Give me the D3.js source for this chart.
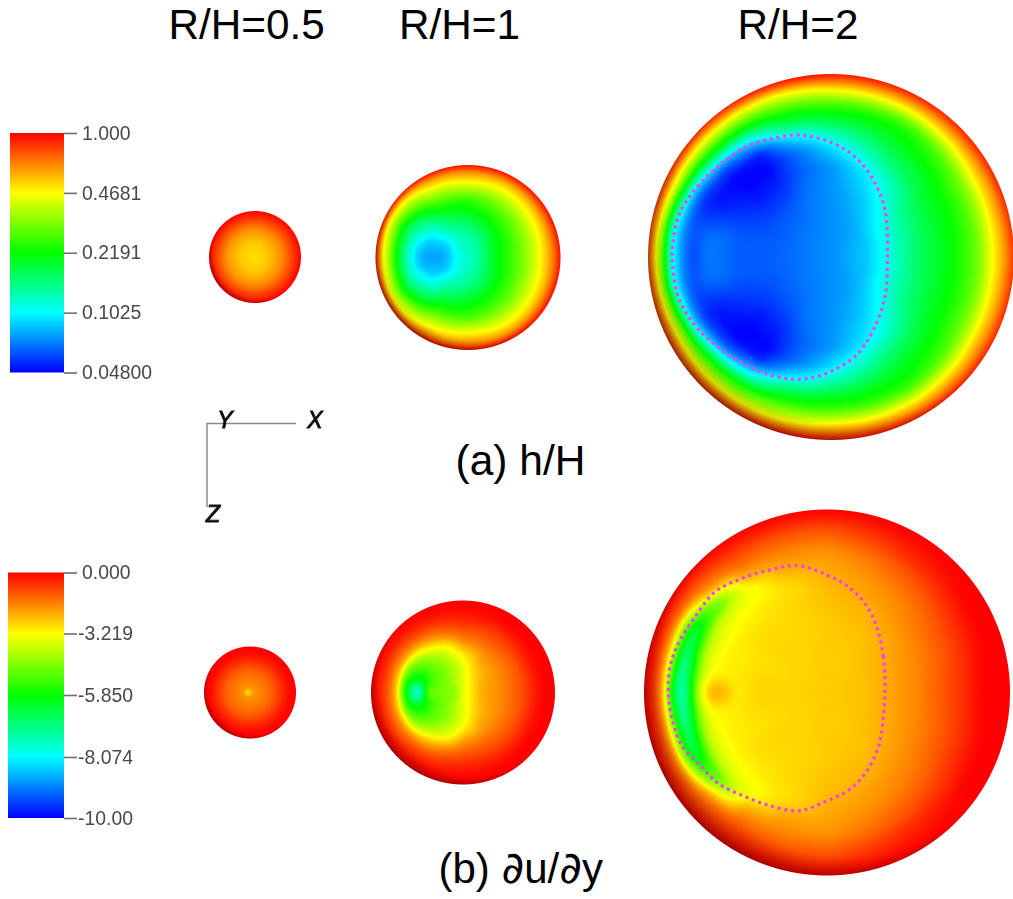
<!DOCTYPE html>
<html><head><meta charset="utf-8">
<script src="https://cdnjs.cloudflare.com/ajax/libs/d3/7.8.5/d3.min.js"></script>
<style>html,body{margin:0;padding:0;background:#fff;overflow:hidden}svg{display:block}</style>
</head><body>
<script>
// ---- Data. Field values are given as % of colour-bar height (0 = blue end, 100 = red end),
// sampled on polar grids (angle from +x in degrees, radius as a fraction of the disc radius; fields are mirror-symmetric in z).
const columnTitles = ["R/H=0.5", "R/H=1", "R/H=2"];
const captionA = ["(a) h/H"];
const captionB = ["(b) ", "\u2202", "u/", "\u2202", "y"];

const hTickValues = [1.0, 0.4681, 0.2191, 0.1025, 0.048];
const hTickLabels = ["1.000", "0.4681", "0.2191", "0.1025", "0.04800"];
const uTickValues = [0, -3.219, -5.85, -8.074, -10];
const uTickLabels = ["0.000", "-3.219", "-5.850", "-8.074", "-10.00"];

const a1Angles = [0, 90, 180];
const a1Radii = [0, 0.3, 0.6, 0.85, 1];
const a1Values = [
  [78, 81, 87, 95, 100],
  [78, 80, 86, 95, 100],
  [78, 80, 85, 94, 100]];

const a2Angles = [0, 30, 60, 90, 120, 140, 155, 170, 180];
const a2Radii = [0, .15, .22, .3, .45, .55, .65, .75, .85, .92, .96, 1];
const a2Values = [
  [30, 38, 43, 49, 55, 60, 66, 73, 81, 88, 93, 100],
  [30, 36, 41, 46, 53, 58, 64, 71, 79, 87, 93, 100],
  [30, 34, 37, 41, 50, 55, 61, 69, 77, 85, 92, 100],
  [30, 32, 34, 37, 46, 51, 57, 68, 79, 86, 92, 100],
  [30, 30, 30, 32, 40, 47, 55, 64, 75, 83, 90, 100],
  [30, 27, 25, 25, 29, 35, 43, 54, 66, 76, 86, 100],
  [30, 25, 21, 19, 21, 28, 35, 46, 62, 74, 85, 100],
  [30, 25, 19, 17, 17, 21, 31, 46, 64, 76, 85, 100],
  [30, 24, 19, 16, 16, 20, 31, 46, 64, 76, 85, 100]];

const a3Angles = [0, 30, 60, 90, 110, 125, 140, 155, 170, 180];
const a3Radii = [0, .2, .35, .5, .6, .68, .75, .8, .84, .88, .92, .96, 1];
const a3Values = [
  [14, 20, 31, 42, 47, 51, 56, 61, 67, 75, 80, 87, 96],
  [14, 19, 29, 40, 46, 50, 55, 60, 66, 74, 81, 88, 98],
  [14, 16, 20, 26, 37, 44, 49, 52, 58, 68, 78, 87, 98],
  [14, 14, 14, 15, 22, 33, 45, 51, 58, 67, 78, 88, 100],
  [14, 13, 12, 9, 10, 20, 38, 48, 55, 63, 72, 85, 100],
  [14, 12, 9, 3, 0, 3, 18, 33, 48, 58, 70, 83, 98],
  [14, 12, 8, 2, 0, 0, 8, 22, 42, 55, 68, 82, 97],
  [14, 11, 8, 6, 4, 2, 4, 12, 25, 48, 66, 82, 97],
  [14, 11, 9, 9, 11, 11, 8, 11, 19, 30, 58, 78, 96],
  [14, 11, 9, 9, 11, 12, 7, 11, 20, 30, 58, 76, 95]];

const b1Angles = [0, 90, 170, 180];
const b1Radii = [0, .06, .12, .3, .5, .7, .85, 1];
const b1Values = [
  [80, 84, 86, 88, 91, 96, 99, 100],
  [80, 84, 86, 88, 91, 96, 99, 100],
  [78, 76, 85, 88, 90, 95, 99, 100],
  [78, 72, 84, 88, 90, 95, 99, 100]];

const b2Angles = [0, 30, 60, 90, 110, 130, 150, 165, 175, 180];
const b2Radii = [0, .1, .2, .3, .36, .42, .5, .58, .65, .72, .8, .9, 1];
const b2Values = [
  [73, 78, 83, 85, 86, 87, 89, 91, 93, 95, 98, 100, 100],
  [73, 77, 82, 84, 85, 86, 88, 90, 92, 95, 98, 100, 100],
  [73, 75, 78, 81, 83, 85, 87, 90, 92, 94, 97, 100, 100],
  [73, 72, 72, 73, 75, 77, 83, 88, 91, 94, 97, 99, 100],
  [73, 70, 68, 67, 68, 70, 73, 80, 87, 91, 95, 99, 100],
  [73, 67, 65, 62, 62, 63, 66, 72, 80, 87, 93, 98, 100],
  [73, 64, 62, 60, 58, 56, 56, 60, 68, 83, 90, 97, 100],
  [73, 63, 63, 58, 56, 50, 46, 50, 60, 80, 90, 97, 100],
  [73, 63, 63, 60, 60, 46, 30, 42, 57, 80, 90, 97, 100],
  [73, 62, 63, 60, 64, 44, 22, 41, 56, 80, 90, 97, 100]];

const b3Angles = [0, 30, 60, 90, 110, 125, 140, 155, 170, 180];
const b3Radii = [0, .2, .35, .5, .58, .64, .7, .75, .8, .85, .9, .95, 1];
const b3Values = [
  [80, 81, 84, 87, 90, 92, 94, 96, 98, 100, 100, 100, 100],
  [80, 81, 83, 86, 88, 90, 92, 94, 96, 98, 100, 100, 100],
  [80, 80, 81, 83, 85, 86, 88, 90, 92, 95, 97, 99, 100],
  [80, 80, 80, 81, 82, 83, 84, 85, 87, 90, 93, 97, 100],
  [80, 80, 79, 79, 78, 79, 83, 85, 87, 90, 93, 97, 100],
  [80, 79, 79, 78, 77, 75, 74, 81, 86, 90, 93, 97, 100],
  [80, 79, 79, 78, 76, 74, 70, 60, 68, 84, 90, 95, 100],
  [80, 79, 78, 77, 76, 73, 68, 52, 42, 62, 86, 95, 100],
  [80, 79, 79, 77, 76, 75, 66, 46, 33, 56, 85, 96, 100],
  [80, 79, 79, 77, 84, 82, 70, 44, 30, 50, 84, 96, 100]];

// dotted contour lines on the R/H=2 discs (fractions of disc radius)
const a3ContourX = [.308, .295, .231, .140, .013, -.169, -.315, -.461, -.607, -.752, -.834, -.865, -.865, -.834, -.752, -.643, -.497, -.333, -.169, -.005, .140, .231, .295];
const a3ContourY = [0, .257, .421, .539, .621, .667, .648, .603, .503, .357, .220, .056, -.053, -.217, -.362, -.472, -.572, -.645, -.668, -.627, -.535, -.399, -.217];
const b3ContourX = [.317, .308, .271, .208, .117, -.011, -.166, -.321, -.466, -.612, -.721, -.812, -.858, -.867, -.849, -.794, -.685, -.594, -.466, -.321, -.157, -.011, .117, .208, .281, .308];
const b3ContourY = [.031, .195, .359, .486, .577, .647, .694, .668, .623, .55, .413, .268, .14, .013, -.133, -.288, -.406, -.497, -.561, -.616, -.647, -.597, -.534, -.443, -.297, -.133];

// ---- Layout
const W = 1013, H = 899;
const svg = d3.select("body").append("svg").attr("width", W).attr("height", H).attr("viewBox", [0, 0, W, H]);
const sans = "'Liberation Sans', Arial, sans-serif";

const colourStops = [0, 25, 50, 75, 100];
const colourRange = ["#0000ff", "#00ffff", "#00ff00", "#ffff00", "#ff0000"];
const colour = d3.scaleLinear().domain(colourStops).range(colourRange).interpolate(d3.interpolateRgb).clamp(true);
const lut = d3.range(0, 1001).map(i => d3.rgb(colour(i / 10)));

const defs = svg.append("defs");
defs.append("filter").attr("id", "soft").append("feGaussianBlur").attr("stdDeviation", 0.35);
const grad = defs.append("linearGradient").attr("id", "rainbow").attr("x1", 0).attr("x2", 0).attr("y1", 1).attr("y2", 0);
colourStops.forEach((s, i) => grad.append("stop").attr("offset", s + "%").attr("stop-color", colourRange[i]));

// ---- Colour bars
function colourBar(scale, values, labels, x0, x1, yTop, yBottom) {
  svg.append("rect").attr("x", x0).attr("y", yTop).attr("width", x1 - x0).attr("height", yBottom - yTop).attr("fill", "url(#rainbow)");
  const axis = d3.axisRight(scale).tickValues(values).tickSize(13).tickPadding(5).tickFormat((d, i) => labels[i]);
  const g = svg.append("g").attr("transform", `translate(${x1},0)`).call(axis);
  g.select(".domain").remove();
  g.selectAll(".tick line").attr("stroke", "#6e6e6e").attr("stroke-width", 1.6);
  g.selectAll(".tick text").attr("font-family", sans).attr("font-size", 19.4).attr("fill", "#4a4a4a")
    .attr("filter", "url(#soft)")
    .attr("x", (d, i) => labels[i].startsWith("-") ? 14 : 18);
}
const hScale = d3.scaleLog().domain([0.048, 1]).range([372.5, 133]);
colourBar(hScale, hTickValues, hTickLabels, 10, 64, 133, 372.5);
const uScale = d3.scaleLinear().domain(uTickValues).range([572.5, 633.5, 695, 757, 818]);
colourBar(uScale, uTickValues, uTickLabels, 8, 64, 572.5, 818);

// ---- Discs
function drawDisc(cx, cy, r, angles, radii, values, blurR) {
  const angIdx = d3.scaleLinear().domain(angles).range(d3.range(angles.length)).clamp(true);
  const radIdx = d3.scaleLinear().domain(radii).range(d3.range(radii.length)).clamp(true);
  const size = Math.ceil(2 * r) + 4, x0 = Math.floor(cx - r) - 2, y0 = Math.floor(cy - r) - 2;
  const cv = document.createElement("canvas"); cv.width = size; cv.height = size;
  const ctx = cv.getContext("2d"), img = ctx.createImageData(size, size);
  let t = new Float32Array(size * size);
  const sx = d3.scaleLinear().domain([cx - r, cx + r]).range([-1, 1]);
  const sy = d3.scaleLinear().domain([cy - r, cy + r]).range([-1, 1]);
  for (let j = 0; j < size; j++) for (let i = 0; i < size; i++) {
    const nx = sx(x0 + i + .5), ny = sy(y0 + j + .5);
    const rr = Math.min(1, Math.hypot(nx, ny));
    const th = Math.abs(Math.atan2(ny, nx)) * 180 / Math.PI;
    const a = angIdx(th), b = radIdx(rr);
    const a0 = Math.min(Math.floor(a), angles.length - 2), b0 = Math.min(Math.floor(b), radii.length - 2);
    const fa = a - a0, fb = b - b0;
    t[j * size + i] = (values[a0][b0] * (1 - fb) + values[a0][b0 + 1] * fb) * (1 - fa) +
                      (values[a0 + 1][b0] * (1 - fb) + values[a0 + 1][b0 + 1] * fb) * fa;
  }
  for (let pass = 0; pass < 2; pass++) {
    const n = new Float32Array(size * size);
    for (let j = 0; j < size; j++) for (let i = 0; i < size; i++) {
      let s = 0, c = 0;
      for (let k = -blurR; k <= blurR; k++) { const q = i + k; if (q >= 0 && q < size) { s += t[j * size + q]; c++; } }
      n[j * size + i] = s / c;
    }
    const m = new Float32Array(size * size);
    for (let j = 0; j < size; j++) for (let i = 0; i < size; i++) {
      let s = 0, c = 0;
      for (let k = -blurR; k <= blurR; k++) { const q = j + k; if (q >= 0 && q < size) { s += n[q * size + i]; c++; } }
      m[j * size + i] = s / c;
    }
    t = m;
  }
  const L = [0.25, -0.25, 0.935]; // light from upper right
  for (let j = 0; j < size; j++) for (let i = 0; i < size; i++) {
    const px = x0 + i + .5, py = y0 + j + .5, nx = sx(px), ny = sy(py);
    const rr = Math.hypot(nx, ny);
    const alpha = Math.max(0, Math.min(1, (r - rr * r) + .5));
    if (!alpha) continue;
    const nz = Math.sqrt(Math.max(0, 1 - rr * rr));
    const dot = nx * L[0] + ny * L[1] + nz * L[2];
    const shade = Math.min(1, 0.85 + dot * 0.8);
    const c = lut[Math.max(0, Math.min(1000, Math.round(t[j * size + i] * 10)))];
    const o = (j * size + i) * 4;
    img.data[o] = c.r * shade; img.data[o + 1] = c.g * shade; img.data[o + 2] = c.b * shade; img.data[o + 3] = alpha * 255;
  }
  ctx.putImageData(img, 0, 0);
  svg.append("image").attr("x", x0).attr("y", y0).attr("width", size).attr("height", size).attr("href", cv.toDataURL());
}
drawDisc(255, 257, 46, a1Angles, a1Radii, a1Values, 1);
drawDisc(468, 257.5, 92.5, a2Angles, a2Radii, a2Values, 2);
drawDisc(831, 257, 183, a3Angles, a3Radii, a3Values, 3);
drawDisc(250, 692.5, 46, b1Angles, b1Radii, b1Values, 1);
drawDisc(463, 692.5, 92, b2Angles, b2Radii, b2Values, 2);
drawDisc(827, 692.5, 183, b3Angles, b3Radii, b3Values, 3);

// ---- Dotted contours
function contour(cx, cy, r, xs, ys) {
  const px = d3.scaleLinear().domain([-1, 1]).range([cx - r, cx + r]);
  const py = d3.scaleLinear().domain([-1, 1]).range([cy + r, cy - r]);
  const line = d3.line().x(i => px(xs[i])).y(i => py(ys[i])).curve(d3.curveCatmullRomClosed.alpha(.5));
  svg.append("path").attr("d", line(d3.range(xs.length))).attr("fill", "none")
    .attr("stroke", "#f044e8").attr("stroke-width", 3.2).attr("stroke-dasharray", "3 3.8");
}
contour(831, 257, 183, a3ContourX, a3ContourY);
contour(827, 692.5, 183, b3ContourX, b3ContourY);

// ---- Orientation triad
const triad = svg.append("g").attr("stroke", "#8a8a8a").attr("stroke-width", 1.5).attr("fill", "none");
triad.append("path").attr("d", d3.line()([[296, 423.5], [207, 423.5], [207, 507]]));
const triadLabels = [["Y", 225, 428], ["X", 315, 428], ["Z", 213, 522]];
svg.selectAll("text.triad").data(triadLabels).join("text").attr("class", "triad")
  .attr("x", d => d[1]).attr("y", d => d[2]).attr("text-anchor", "middle")
  .attr("font-family", sans).attr("font-style", "italic").attr("font-size", 23)
  .attr("fill", "#111").attr("stroke", "#111").attr("stroke-width", 0.9).attr("filter", "url(#soft)")
  .text(d => d[0]);

// ---- Titles
const titleX = [168.5, 399, 737.5];
svg.selectAll("text.title").data(columnTitles).join("text").attr("class", "title")
  .attr("x", (d, i) => titleX[i]).attr("y", 38.5)
  .attr("font-family", sans).attr("font-size", 42.3).attr("fill", "#000").text(d => d);
svg.append("text").attr("x", 455.5).attr("y", 475).attr("font-family", sans).attr("font-size", 42.5).attr("fill", "#000").text(captionA[0]);
const capB = svg.append("text").attr("x", 438.5).attr("y", 883).attr("font-family", sans).attr("font-size", 42).attr("fill", "#000");
capB.selectAll("tspan").data(captionB).join("tspan")
  .attr("font-family", d => d === "\u2202" ? "'DejaVu Sans'" : sans)
  .attr("font-size", d => d === "\u2202" ? 44 : 42)
  .attr("xml:space", "preserve").style("white-space", "pre").text(d => d);
</script>
</body></html>
